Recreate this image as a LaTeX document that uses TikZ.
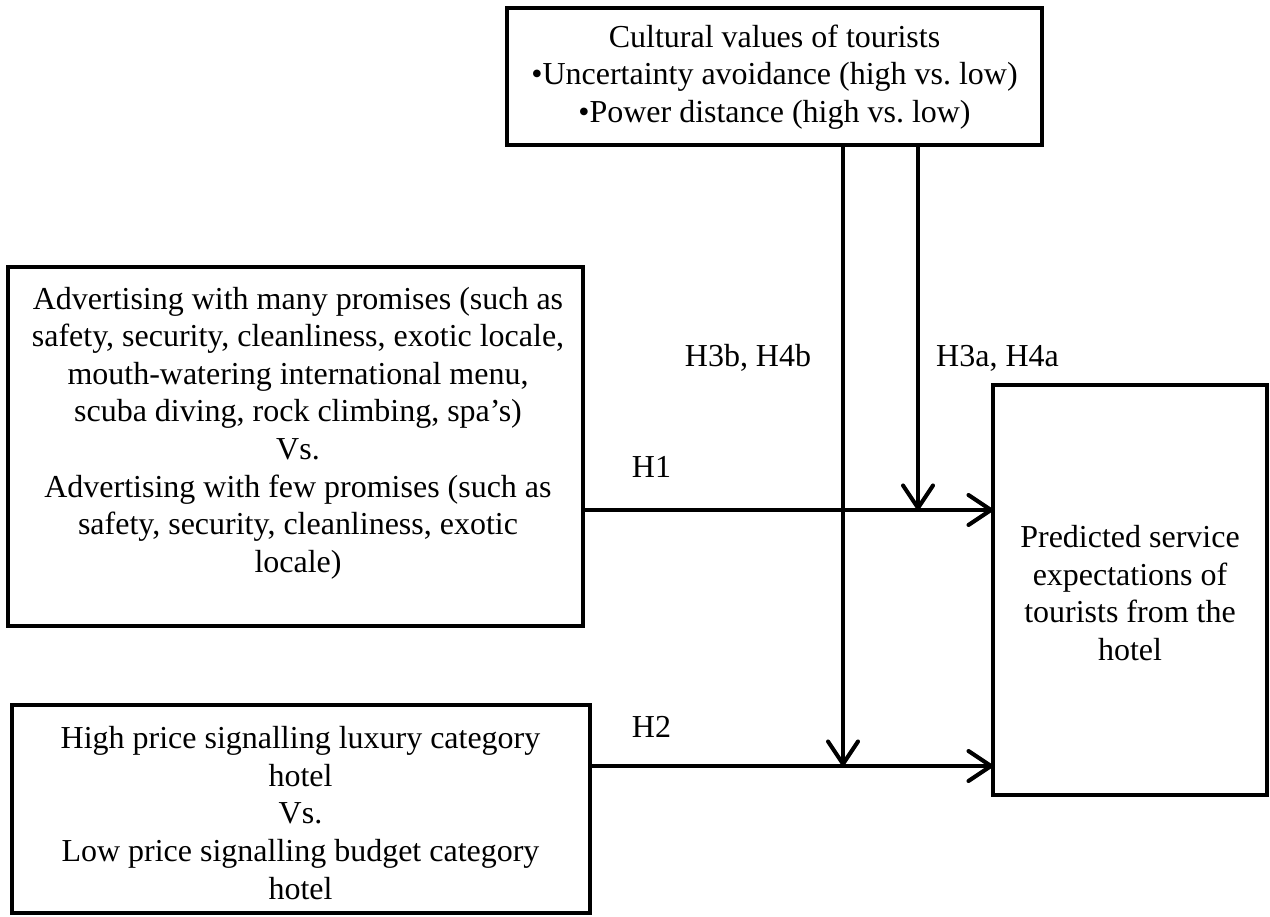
\documentclass[tikz,border=0pt]{standalone}
\usepackage{fontspec}
\setmainfont{Liberation Serif}
\usetikzlibrary{arrows.meta}
\frenchspacing
\begin{document}
\begin{tikzpicture}[
  box/.style={draw, line width=2.3pt, inner sep=0pt, outer sep=0pt},
  txt/.style={align=center, inner sep=0pt, font=\fontsize{18.2}{21.4}\selectfont},
  lab/.style={inner sep=0pt, font=\fontsize{18.2}{21.4}\selectfont},
  arr/.style={line width=2.3pt, -{Straight Barb[length=0.45cm,width=0.6cm,line cap=round,line join=round]}}
]
\useasboundingbox (0,0) rectangle (25.4,-18.34);
% boxes
\node[box, minimum width=10.7cm, minimum height=2.74cm] (cult) at (15.49,-1.53) {};
\node[box, minimum width=11.5cm, minimum height=7.18cm] (adv) at (5.91,-8.93) {};
\node[box, minimum width=11.56cm, minimum height=4.16cm] (price) at (6.02,-16.18) {};
\node[box, minimum width=5.48cm, minimum height=8.2cm] (exp) at (22.6,-11.8) {};
% texts
\node[txt] (culttxt) at (15.49,-1.54) {Cultural values of tourists\\ •Uncertainty avoidance (high vs. low)\\ •Power distance (high vs. low)};
\node[txt] (advtxt) at (5.96,-8.66) {Advertising with many promises (such as\\ safety, security, cleanliness, exotic locale,\\ mouth-watering international menu,\\ scuba diving, rock climbing, spa’s)\\ Vs.\\ Advertising with few promises (such as\\ safety, security, cleanliness, exotic\\ locale)};
\node[txt] (pricetxt) at (6.01,-16.26) {High price signalling luxury category\\ hotel\\ Vs.\\ Low price signalling budget category\\ hotel};
\node[txt] (exptxt) at (22.6,-11.86) {Predicted service\\ expectations of\\ tourists from the\\ hotel};
% junction coordinates
\coordinate (m1) at (18.36,-10.2);
\coordinate (m2) at (16.86,-15.32);
% connectors
\draw[arr] (adv.east |- m1) -- (exp.west |- m1);
\draw[arr] (price.east |- m2) -- (exp.west |- m2);
\draw[arr] (cult.south -| m1) -- (m1);
\draw[arr] (cult.south -| m2) -- (m2);
% labels
\node[lab] (h1) at (13.03,-9.34) {H1};
\node[lab] (h2) at (13.03,-14.54) {H2};
\node[lab] (h3b) at (14.96,-7.16) {H3b, H4b};
\node[lab] (h3a) at (19.95,-7.16) {H3a, H4a};
\end{tikzpicture}
\end{document}
